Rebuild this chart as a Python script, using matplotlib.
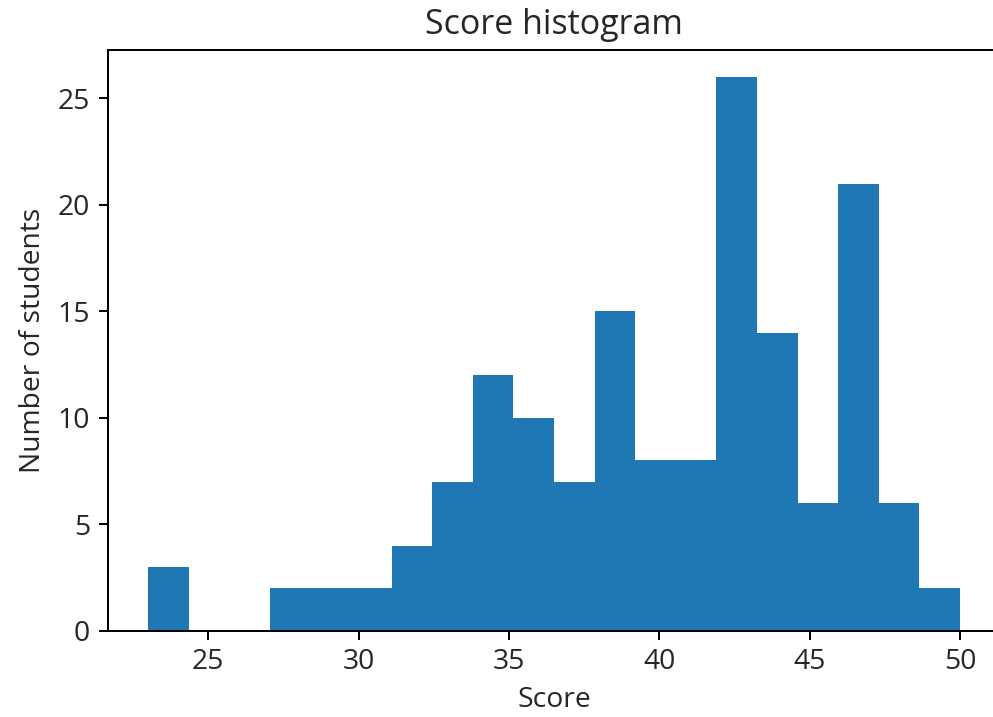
import matplotlib
matplotlib.use("Agg")

import matplotlib.pyplot as plt
import numpy as np

# --- Dados ---
score_min = 23
score_max = 50
n_bins = 20
# contagem de alunos por faixa de nota
counts = [3, 0, 0, 2, 2, 2, 4, 7, 12, 10, 7, 15, 8, 8, 26, 14, 6, 21, 6, 2]

plt.rcParams['font.family'] = ['Open Sans', 'DejaVu Sans']
plt.rcParams['font.size'] = 11.3
plt.rcParams['axes.titlesize'] = 13.6
plt.rcParams['text.color'] = '#262626'
plt.rcParams['axes.labelcolor'] = '#262626'
plt.rcParams['xtick.labelcolor'] = '#262626'
plt.rcParams['ytick.labelcolor'] = '#262626'

dpi = 180
fig = plt.figure(figsize=(993 / dpi, 717 / dpi), dpi=dpi)
# eixo propositalmente passa da borda direita (imagem original recortada)
ax = fig.add_axes([107.5 / 993, 86.3 / 717, 893.1 / 993, 581.2 / 717])

edges = np.linspace(score_min, score_max, n_bins + 1)
centers = (edges[:-1] + edges[1:]) / 2
ax.hist(centers, bins=edges, weights=counts, color='#1f77b4')

ax.set_title("Score histogram")
ax.set_xlabel("Score")
ax.set_ylabel("Number of students")

fig.savefig("out.png", dpi=dpi)
